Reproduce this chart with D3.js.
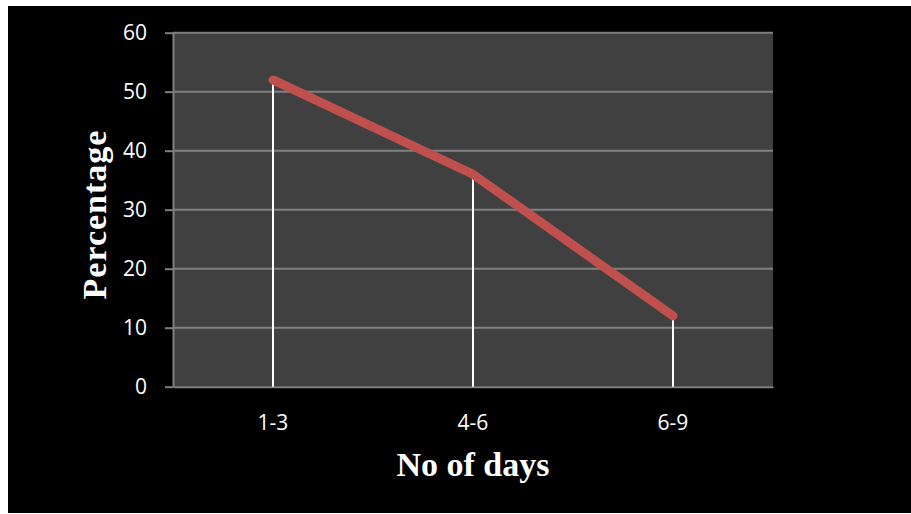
<!DOCTYPE html>
<html>
<head>
<meta charset="utf-8">
<script src="https://cdn.jsdelivr.net/npm/d3@7"></script>
<style>
  html, body { margin: 0; padding: 0; background: #fff; }
  svg { display: block; }
</style>
</head>
<body>
<svg id="chart" width="911" height="514"></svg>
<script>
// Share of cases by duration (days)
const categories = ["1-3", "4-6", "6-9"];
const percentages = [52, 36, 12];
const yTicks = [0, 10, 20, 30, 40, 50, 60];
const xTitle = "No of days";
const yTitle = "Percentage";

const svg = d3.select("#chart");
const W = 911, H = 514;

// black slide-style frame
svg.append("rect").attr("x", 8).attr("y", 6).attr("width", W - 8).attr("height", H - 7).attr("fill", "#000");

const plot = { left: 173, right: 773, top: 32.7, bottom: 386.7 };

const x = d3.scaleBand().domain(categories).range([plot.left, plot.right]).padding(0);
const y = d3.scaleLinear().domain([0, 60]).range([plot.bottom, plot.top]);

// plot area
svg.append("rect")
  .attr("x", plot.left).attr("y", plot.top)
  .attr("width", plot.right - plot.left).attr("height", plot.bottom - plot.top)
  .attr("fill", "#404040");

// horizontal gridlines
svg.append("g").selectAll("line")
  .data(yTicks.filter(d => d > 0))
  .join("line")
  .attr("x1", plot.left).attr("x2", plot.right)
  .attr("y1", d => y(d)).attr("y2", d => y(d))
  .attr("stroke", "#808080").attr("stroke-width", 2);

const tickFont = "'Open Sans', 'Noto Sans', sans-serif";

// y axis
const yAxis = svg.append("g")
  .attr("transform", `translate(${plot.left},0)`)
  .call(d3.axisLeft(y).tickValues(yTicks).tickSize(8).tickSizeOuter(0).tickPadding(18));
yAxis.select(".domain").attr("stroke", "#808080").attr("stroke-width", 2);
yAxis.selectAll(".tick line").attr("stroke", "#808080").attr("stroke-width", 2);
yAxis.selectAll(".tick text")
  .attr("fill", "#fff")
  .style("font-family", tickFont)
  .style("font-size", "21px");

// x axis
const xAxis = svg.append("g")
  .attr("transform", `translate(0,${plot.bottom})`)
  .call(d3.axisBottom(x).tickSize(0).tickSizeOuter(0).tickPadding(28));
xAxis.select(".domain").attr("stroke", "#808080").attr("stroke-width", 2);
xAxis.selectAll(".tick text")
  .attr("fill", "#fff")
  .style("font-family", tickFont)
  .style("font-size", "21px");

const data = categories.map((c, i) => ({ c, v: percentages[i] }));
const cx = d => x(d.c) + x.bandwidth() / 2;

// drop lines from each point to the axis
svg.append("g").selectAll("line")
  .data(data)
  .join("line")
  .attr("x1", cx).attr("x2", cx)
  .attr("y1", d => y(d.v)).attr("y2", plot.bottom)
  .attr("stroke", "#fff").attr("stroke-width", 2);

// series line
svg.append("path")
  .datum(data)
  .attr("d", d3.line().x(cx).y(d => y(d.v)))
  .attr("fill", "none")
  .attr("stroke", "#C0504D")
  .attr("stroke-width", 9)
  .attr("stroke-linecap", "round")
  .attr("stroke-linejoin", "round");

// axis titles
const titleFont = "'Liberation Serif', 'Times New Roman', serif";

svg.append("text")
  .attr("x", (plot.left + plot.right) / 2).attr("y", 476)
  .attr("text-anchor", "middle")
  .attr("fill", "#fff")
  .style("font-family", titleFont)
  .style("font-weight", "bold")
  .style("font-size", "34px")
  .text(xTitle);

svg.append("text")
  .attr("transform", "translate(106,214.5) rotate(-90)")
  .attr("text-anchor", "middle")
  .attr("fill", "#fff")
  .style("font-family", titleFont)
  .style("font-weight", "bold")
  .style("font-size", "34px")
  .style("letter-spacing", "1px")
  .text(yTitle);
</script>
</body>
</html>
